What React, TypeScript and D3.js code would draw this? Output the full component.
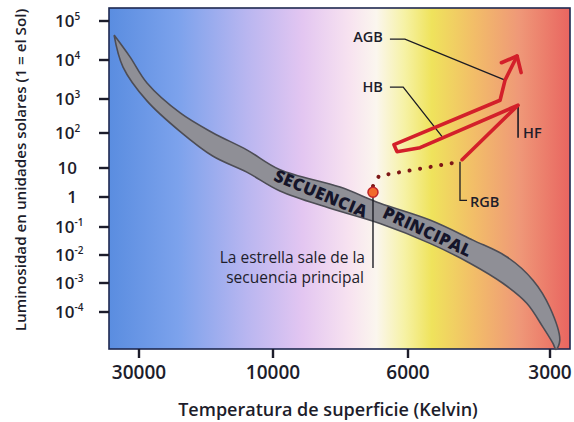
import React from "react";
import * as d3 from "d3";

// ---- axis data ----
const xTicks = [30000, 10000, 6000, 3000];
const xTickLabels = ["30000", "10000", "6000", "3000"];
const yTicks = [1e5, 1e4, 1e3, 1e2, 10, 1, 1e-1, 1e-2, 1e-3, 1e-4];
const yTickBase = ["10", "10", "10", "10", "10", "1", "10", "10", "10", "10"];
const yTickExp = ["5", "4", "3", "2", "", "", "-1", "-2", "-3", "-4"];

// ---- main sequence band (upper and lower edges) ----
const msUpperT = [36800, 32300, 28100, 21400, 16400, 12400, 9740, 7760, 6670, 5390, 4370, 3700, 3260, 3000, 2860, 2913];
const msUpperL = [43600, 12000, 2570, 389, 102, 33, 8.7, 2.2, 0.62, 0.17, 0.034, 0.0085, 0.00126, 1.4e-4, 1.05e-5, 5.1e-6];
const msLowerT = [34200, 28100, 21400, 16400, 12400, 9740, 8060, 6670, 5390, 4434, 3776, 3360, 3105, 2957];
const msLowerL = [6600, 880, 110, 22, 7.2, 1.6, 0.42, 0.13, 0.026, 0.0051, 9.8e-4, 2e-4, 3e-5, 8.3e-6];

// ---- evolution of the star ----
const starT = 6850;
const starL = 1.46;
const exitT = [6850, 6695, 4655];
const exitL = [2.38, 5.36, 15.1];
const giantT = [4608, 3506, 5657, 6256, 6327, 3828, 3736, 3523];
const giantL = [17.3, 658, 38, 29.3, 46.4, 917, 3040, 12650];

// ---- annotation leaders (data coords) ----
const agbLeaderT = [6425, 6070, 3736];
const agbLeaderL = [34200, 34200, 3040];
const hbLeaderT = [6425, 6110, 5080];
const hbLeaderL = [2005, 2005, 78.3];
const hfLeaderT = [3506, 3506];
const hfLeaderL = [658, 73.5];
const rgbLeaderT = [4655, 4655, 4498];
const rgbLeaderL = [15.1, 0.776, 0.776];
const starLeaderT = [6850, 6850];
const starLeaderL = [1.46, 0.0034];
const starNote = ["La estrella sale de la", "secuencia principal"];

const FONT = "'Open Sans', 'Noto Sans', sans-serif";
const INK = "#1d1d2b";
const RED = "#d3202a";

export default function App() {
  const W = 574, H = 422;
  const frame = { left: 109, right: 570, top: 8, bottom: 349 };
  const x = d3.scaleLog().domain(xTicks).range([139, 273, 408, 550]);
  const y = d3.scaleLog().domain(yTicks).range([21, 60, 99, 133, 168, 197, 227, 255, 283, 312]);

  const pts = (T: number[], L: number[]) => T.map((t, i) => [x(t), y(L[i])] as [number, number]);
  const upper = pts(msUpperT, msUpperL);
  const lower = pts(msLowerT, msLowerL).reverse();
  const bandPts = [...upper, ...lower, upper[0]];
  const bandPath = d3.line().curve(d3.curveCatmullRom.alpha(0.5))(bandPts) as string;
  const lin = d3.line();

  const agb = pts(agbLeaderT, agbLeaderL);
  const hb = pts(hbLeaderT, hbLeaderL);
  const hf = pts(hfLeaderT, hfLeaderL);
  const rgb = pts(rgbLeaderT, rgbLeaderL);
  const sl = pts(starLeaderT, starLeaderL);

  // band label positions
  const secX = x(8337), secY = y(1.35);
  const priX = x(5450), priY = y(0.07);

  return (
    <svg width={W} height={H} style={{ position: "absolute", left: 0, top: 0, background: "#fff" }} fontFamily={FONT}>
      <defs>
        <linearGradient id="temp" x1="0" x2="1" y1="0" y2="0">
          <stop offset="0%" stopColor="#5a8de0" />
          <stop offset="15%" stopColor="#7ca2ec" />
          <stop offset="30%" stopColor="#b9b6f0" />
          <stop offset="42%" stopColor="#e3c6f1" />
          <stop offset="52%" stopColor="#f7e2f0" />
          <stop offset="58%" stopColor="#fbf6ee" />
          <stop offset="64%" stopColor="#f6f2a6" />
          <stop offset="70%" stopColor="#efe35c" />
          <stop offset="79%" stopColor="#f2be68" />
          <stop offset="89%" stopColor="#ef9878" />
          <stop offset="100%" stopColor="#e96560" />
        </linearGradient>
        <marker id="arr" markerUnits="userSpaceOnUse" markerWidth={40} markerHeight={40}
          viewBox="-20 -20 40 40" refX={0} refY={0} orient="auto">
          <path d="M-13,-11 L0,0 L-13,11" fill="none" stroke={RED} strokeWidth={3.6}
            strokeLinecap="round" strokeLinejoin="round" />
        </marker>
      </defs>

      {/* plot background */}
      <rect x={frame.left} y={frame.top} width={frame.right - frame.left} height={frame.bottom - frame.top}
        fill="url(#temp)" stroke="#1e2850" strokeWidth={1.6} />

      {/* main sequence band */}
      <path d={bandPath} fill="#8f8f96" stroke="#4d4d55" strokeWidth={1.6} strokeLinejoin="round" />

      <text x={secX} y={secY} transform={`rotate(22.5 ${secX} ${secY})`} textAnchor="middle"
        dominantBaseline="central" fontSize={17} fontWeight={800} fill="#15152a" letterSpacing={0.4}>SECUENCIA</text>
      <text x={priX} y={priY} transform={`rotate(25 ${priX} ${priY})`} textAnchor="middle"
        dominantBaseline="central" fontSize={17} fontWeight={800} fill="#15152a" letterSpacing={0.4}>PRINCIPAL</text>

      {/* leaders */}
      <g fill="none" stroke="#1b1b24" strokeWidth={1.3}>
        <path d={lin(agb) as string} />
        <path d={lin(hb) as string} />
        <path d={lin(hf) as string} strokeWidth={1.6} />
        <path d={lin(rgb) as string} />
        <path d={lin(sl) as string} strokeWidth={1.4} />
      </g>

      {/* dotted exit track */}
      <path d={lin(pts(exitT, exitL)) as string} fill="none" stroke="#7d1717" strokeWidth={4}
        strokeLinecap="round" strokeDasharray="0.1 10.6" />

      {/* giant branches */}
      <path d={lin(pts(giantT, giantL)) as string} fill="none" stroke={RED} strokeWidth={3.6}
        strokeLinejoin="round" strokeLinecap="round" markerEnd="url(#arr)" />

      {/* star */}
      <circle cx={x(starT)} cy={y(starL)} r={5} fill="#f26a2c" stroke="#c0242a" strokeWidth={1.5} />

      {/* annotation labels */}
      <g fontSize={14.5} fontWeight={600} fill={INK}>
        <text x={agb[0][0] - 7} y={agb[0][1] - 3} textAnchor="end" dominantBaseline="central">AGB</text>
        <text x={hb[0][0] - 7} y={hb[0][1] - 1} textAnchor="end" dominantBaseline="central">HB</text>
        <text x={hf[1][0] + 5} y={hf[1][1] - 5} textAnchor="start" dominantBaseline="central">HF</text>
        <text x={rgb[2][0] + 3} y={rgb[2][1] + 1} textAnchor="start" dominantBaseline="central">RGB</text>
      </g>
      <g fontSize={15.5} fontWeight={500} fill={INK} textAnchor="end">
        <text x={sl[1][0] - 8} y={sl[1][1] - 5}>{starNote[0]}</text>
        <text x={sl[1][0] - 9} y={sl[1][1] + 15}>{starNote[1]}</text>
      </g>

      {/* y axis */}
      <g>
        {yTicks.map((t, i) => (
          <g key={i}>
            <line x1={frame.left - 10} x2={frame.left} y1={y(t)} y2={y(t)} stroke={INK} strokeWidth={2.4} />
            {yTickExp[i] ? (
              <text x={55} y={y(t) + 6} fontSize={17} fontWeight={600} fill={INK}>
                {yTickBase[i]}
                <tspan fontSize={10} dy={-7}>{yTickExp[i]}</tspan>
              </text>
            ) : (
              <text x={77} y={y(t) + 6} fontSize={17} fontWeight={600} fill={INK} textAnchor="end">{yTickBase[i]}</text>
            )}
          </g>
        ))}
      </g>

      {/* x axis */}
      <g>
        {xTicks.map((t, i) => (
          <g key={i}>
            <line x1={x(t)} x2={x(t)} y1={frame.bottom} y2={frame.bottom + 9} stroke={INK} strokeWidth={2.4} />
            <text x={x(t)} y={379} textAnchor="middle" fontSize={19} fontWeight={600} fill={INK}>{xTickLabels[i]}</text>
          </g>
        ))}
      </g>

      <text x={328} y={416} textAnchor="middle" fontSize={18} fontWeight={600} fill={INK}>
        Temperatura de superficie (Kelvin)
      </text>
      <text x={0} y={0} transform={`translate(26 170) rotate(-90)`} textAnchor="middle" fontSize={15.2}
        fontWeight={600} fill={INK}>
        Luminosidad en unidades solares (1 = el Sol)
      </text>
    </svg>
  );
}
